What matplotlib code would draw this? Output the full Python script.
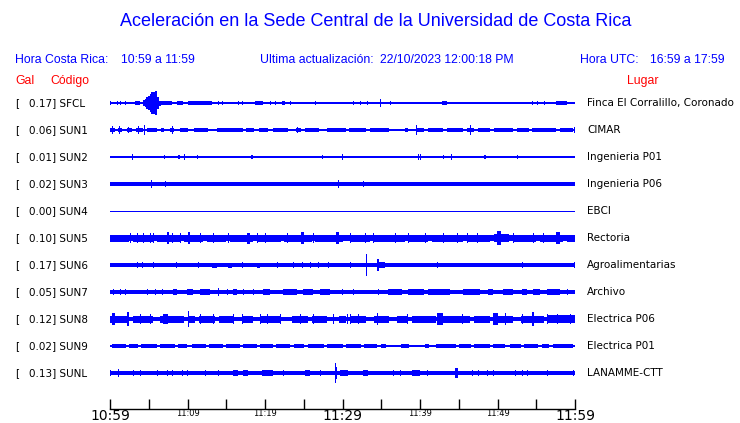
import matplotlib
matplotlib.use("Agg")
import matplotlib.pyplot as plt

W, H = 740, 423

codigos = ["SFCL", "SUN1", "SUN2", "SUN3", "SUN4", "SUN5", "SUN6", "SUN7", "SUN8", "SUN9", "SUNL"]
gal = [0.17, 0.06, 0.01, 0.02, 0.00, 0.10, 0.17, 0.05, 0.12, 0.02, 0.13]
lugares = ["Finca El Corralillo, Coronado", "CIMAR", "Ingenieria P01", "Ingenieria P06", "EBCI",
           "Rectoria", "Agroalimentarias", "Archivo", "Electrica P06", "Electrica P01", "LANAMME-CTT"]

# medio grosor del ruido de fondo de cada traza (px)
fondo = [1.0, 1.0, 0.8, 1.7, 0.5, 2.6, 1.6, 1.7, 2.4, 0.8, 1.8]

# rafagas: (minuto inicio, minuto fin, amplitud px)
sfcl = [(0.0, 0.1, 2), (0.9, 1.0, 2), (1.3, 1.4, 2), (1.9, 2.0, 2), (3.2, 3.9, 1.6),
        (4.2, 4.5, 3), (4.5, 4.7, 4), (4.7, 4.9, 6), (4.9, 5.1, 7), (5.1, 5.3, 9), (5.3, 5.5, 11),
        (5.5, 5.8, 11), (5.8, 6.1, 12), (6.1, 6.3, 6), (6.3, 6.6, 2.5),
        (6.6, 8.0, 1.6), (8.6, 9.4, 1.6), (10.1, 13.2, 1.6), (13.9, 14.0, 2), (14.5, 14.6, 2),
        (16.5, 16.6, 2), (17.0, 17.1, 2), (18.7, 19.7, 1.6), (20.6, 20.7, 2), (21.3, 21.4, 2),
        (22.2, 22.6, 1.6), (23.2, 23.3, 2), (26.5, 26.6, 2), (31.4, 31.5, 2), (32.3, 32.4, 2),
        (33.2, 33.3, 2), (34.8, 34.9, 4), (36.1, 36.2, 2), (42.8, 43.5, 1.6), (54.5, 54.6, 2),
        (55.1, 55.2, 2), (56.0, 56.1, 2), (57.6, 59.0, 1.6)]
sun1 = [(0.0, 0.6, 2), (0.3, 0.4, 4), (1.0, 1.6, 2), (1.2, 1.3, 4), (2.2, 2.8, 2), (2.4, 2.5, 3),
        (3.4, 4.2, 2), (3.6, 3.7, 4), (4.4, 4.5, 5),
        (4.8, 6.0, 1.6), (6.6, 7.0, 1.6), (7.8, 8.2, 2), (8.0, 8.1, 4), (9.0, 10.0, 1.6),
        (10.8, 12.6, 1.6), (13.8, 17.2, 1.6), (17.6, 18.6, 1.6), (19.2, 20.4, 1.6), (21.0, 23.0, 1.6),
        (24.0, 24.6, 2), (24.2, 24.3, 3),
        (25.2, 27.0, 1.6), (28.0, 30.5, 1.6), (30.8, 33.0, 1.6), (33.5, 36.0, 1.6), (38.0, 38.5, 1.6),
        (39.5, 40.5, 1.6), (39.5, 39.6, 5), (41.0, 43.0, 1.6), (43.5, 45.5, 1.6), (46.0, 47.0, 1.6),
        (46.5, 46.6, 5), (47.5, 49.0, 1.6), (49.5, 52.0, 1.6), (52.5, 54.0, 1.6), (54.5, 57.5, 1.6),
        (58.0, 59.8, 1.6), (59.9, 60.0, 3)]
sun2 = [(2.8, 2.9, 3), (7.0, 7.1, 2), (8.8, 9.0, 2), (9.5, 9.6, 3), (11.2, 11.3, 2),
        (18.2, 18.4, 2), (27.4, 27.5, 2), (29.9, 30.0, 3), (39.7, 39.8, 3), (40.0, 40.1, 3),
        (43.0, 43.1, 2), (44.0, 44.1, 3), (48.3, 48.5, 2), (52.5, 52.6, 2)]
sun3 = [(5.3, 5.4, 4), (7.1, 7.2, 3), (29.4, 29.6, 4), (32.6, 32.7, 3)]
sun4 = []
sun5 = [(0.0, 2.5, 3.5), (3.0, 5.5, 3.5), (6.0, 9.0, 3.5), (9.5, 12.0, 3.5), (12.5, 15.0, 3.5),
        (15.5, 18.5, 3.5), (19.0, 22.0, 3.5), (22.5, 26.0, 3.5), (26.5, 30.0, 3.5), (31.0, 33.5, 3.5),
        (34.0, 38.0, 3.5), (38.5, 41.0, 3.5), (41.5, 45.5, 3.5), (46.0, 49.0, 3.5), (49.5, 51.5, 4),
        (52.0, 55.0, 3.5), (55.5, 58.5, 3.5), (59.0, 60.0, 3.5),
        (2.6, 2.7, 5), (3.5, 3.6, 5), (4.3, 4.4, 5), (5.2, 5.3, 5), (5.5, 5.6, 5), (7.3, 7.6, 6),
        (8.0, 8.1, 5), (9.0, 9.1, 5), (10.0, 10.3, 6), (11.6, 11.7, 5), (13.3, 13.4, 5),
        (15.2, 15.3, 5), (17.7, 18.0, 5.5), (19.0, 19.1, 5), (20.0, 20.1, 5), (22.8, 22.9, 5),
        (24.7, 25.0, 6), (26.2, 26.3, 5), (29.2, 29.5, 6), (31.0, 31.1, 5), (32.9, 33.0, 5),
        (33.9, 34.0, 5), (36.8, 36.9, 5), (38.5, 38.6, 5), (40.6, 40.7, 5), (43.0, 43.1, 5),
        (44.8, 44.9, 5), (46.1, 46.2, 5), (47.4, 47.5, 5), (49.9, 50.4, 7), (52.0, 52.1, 5),
        (54.6, 54.7, 5), (55.9, 56.0, 5), (57.6, 58.0, 6)]
sun6 = [(3.5, 3.6, 3), (4.1, 4.2, 3), (5.5, 5.6, 3), (8.5, 8.6, 3), (9.3, 11.2, 2.3), (11.4, 11.5, 3),
        (13.2, 13.8, 2.5), (15.2, 15.7, 2.5), (17.0, 17.1, 3), (19.0, 19.4, 2.5), (21.5, 21.6, 3),
        (23.6, 23.7, 3), (24.8, 24.9, 3), (25.8, 25.9, 3), (26.8, 26.9, 3), (28.1, 28.2, 3),
        (31.0, 31.1, 3), (33.0, 33.15, 11), (34.5, 34.65, 6), (34.7, 35.5, 3), (35.2, 36.5, 2.3),
        (38.5, 39.6, 2.3), (42.2, 42.3, 3), (43.5, 44.8, 2.3), (46.1, 47.7, 2.3), (49.7, 52.0, 2.3),
        (53.2, 53.3, 3), (53.8, 55.5, 2.3), (59.9, 60.0, 3)]
sun7 = [(0.4, 0.5, 3), (1.3, 1.4, 3), (1.9, 2.0, 3), (4.8, 4.9, 3), (5.8, 5.9, 3), (6.7, 6.8, 3),
        (8.1, 8.6, 2.6), (9.9, 10.7, 2.6), (11.6, 12.9, 2.6), (13.9, 14.0, 4), (15.1, 15.2, 3),
        (15.9, 16.4, 2.6), (17.2, 17.3, 3), (18.5, 18.6, 3), (19.7, 20.6, 2.6), (22.3, 24.1, 2.6),
        (24.9, 26.2, 2.6), (27.1, 28.4, 2.6), (29.9, 30.0, 3), (31.4, 31.5, 3), (34.6, 34.7, 3),
        (35.9, 37.7, 2.6), (38.5, 40.5, 2.6), (41.0, 43.9, 2.6), (45.5, 47.7, 2.6), (48.8, 49.4, 2.6),
        (50.7, 52.0, 2.6), (53.2, 53.8, 2.6), (54.6, 55.5, 2.6), (56.4, 58.1, 2.6), (59.0, 59.1, 3)]
sun8 = [(0.0, 2.5, 3.5), (3.0, 5.5, 3.5), (6.5, 9.5, 3.5), (10.0, 11.0, 3.5), (11.5, 13.5, 3.5),
        (14.0, 16.0, 3.5), (17.0, 18.5, 3.5), (19.5, 22.0, 3.5), (23.5, 25.5, 3.5), (26.0, 28.0, 3.5),
        (29.5, 30.5, 3.5), (31.0, 33.0, 3.5), (34.0, 36.0, 3.5), (37.0, 38.5, 3.5), (39.0, 42.0, 3.5),
        (43.0, 46.5, 3.5), (47.0, 49.0, 3.5), (50.0, 52.0, 3.5), (53.0, 56.0, 3.5), (56.5, 60.0, 4),
        (0.3, 0.6, 6), (2.2, 2.4, 7), (3.9, 4.0, 5), (5.2, 5.3, 5), (6.8, 7.5, 5), (10.0, 10.2, 8),
        (11.6, 11.7, 5), (13.3, 13.4, 5), (15.9, 16.0, 5), (17.0, 17.1, 5), (19.4, 19.5, 5),
        (20.3, 20.4, 5), (21.9, 22.0, 5), (24.5, 24.6, 5), (26.2, 26.3, 5), (28.8, 28.9, 5),
        (30.6, 30.7, 5), (31.0, 31.1, 5), (32.0, 32.1, 5), (34.4, 34.6, 6), (38.3, 38.4, 5),
        (42.2, 43.0, 6), (45.4, 45.5, 5), (49.4, 50.0, 6), (51.0, 51.1, 6), (53.2, 53.3, 5),
        (54.5, 54.7, 7), (56.4, 56.5, 5), (57.7, 57.8, 5), (59.4, 59.5, 5)]
sun9 = [(0.2, 2.0, 1.7), (2.4, 3.6, 1.7), (4.0, 6.0, 1.7), (6.4, 8.4, 1.7), (8.8, 10.0, 1.7),
        (10.6, 12.4, 1.7), (12.8, 14.6, 1.7), (15.0, 16.8, 1.7), (17.2, 19.0, 1.7), (19.4, 21.0, 1.7),
        (21.4, 23.2, 1.7), (23.8, 25.0, 1.7), (25.6, 27.6, 1.7), (28.0, 30.0, 1.7), (30.4, 32.4, 1.7),
        (32.8, 34.4, 1.7), (35.0, 35.6, 1.7), (37.6, 38.6, 1.7), (40.6, 41.2, 1.7), (42.0, 44.6, 1.7),
        (45.0, 46.6, 1.7), (47.0, 49.0, 1.7), (49.4, 51.0, 1.7), (51.6, 53.0, 1.7), (53.4, 55.2, 1.7),
        (55.8, 56.6, 1.7), (57.2, 59.8, 1.7)]
sunl = [(0.0, 0.1, 3), (1.0, 1.1, 4), (3.0, 3.1, 3), (3.9, 4.0, 3), (6.1, 6.2, 3), (7.4, 7.5, 3),
        (8.0, 8.1, 3), (9.3, 9.4, 3), (9.9, 10.0, 3), (12.3, 12.4, 3), (13.9, 14.0, 3),
        (15.9, 16.5, 2.6), (17.2, 17.8, 3), (19.6, 21.0, 2.6), (22.3, 22.4, 3), (25.2, 25.8, 2.6),
        (27.1, 27.2, 3), (29.0, 29.15, 10), (29.2, 29.3, 6), (29.7, 30.7, 2.6), (32.6, 33.3, 2.6),
        (36.5, 36.6, 3), (37.4, 37.5, 3), (39.0, 40.0, 2.6), (40.9, 41.0, 3), (44.5, 44.9, 5),
        (46.7, 46.8, 3), (47.5, 47.6, 3), (48.6, 48.7, 3), (49.4, 49.5, 3), (52.3, 52.4, 3),
        (53.2, 53.3, 3), (53.8, 53.9, 3), (56.4, 56.5, 3), (59.7, 59.8, 3)]
rafagas = [sfcl, sun1, sun2, sun3, sun4, sun5, sun6, sun7, sun8, sun9, sunl]

ticks_min = list(range(0, 61, 5))
etiquetas = {0: "10:59", 10: "11:09", 20: "11:19", 30: "11:29", 40: "11:39", 50: "11:49", 60: "11:59"}
grandes = [0, 30, 60]

azul = "#0000ff"
rojo = "#ff0000"


def fx(px):
    return px / W


def fy(py):
    return 1 - py / H


fig = plt.figure(figsize=(W / 100, H / 100), dpi=100)
fig.patch.set_facecolor("white")

y0, dy = 103, 27
ax = fig.add_axes([fx(110), fy(409), fx(575) - fx(110), fy(88) - fy(409)])
ax.set_xlim(0, 60)
ax.set_ylim(409, 88)
for s in ["top", "left", "right"]:
    ax.spines[s].set_visible(False)
ax.spines["bottom"].set_linewidth(1)
ax.set_yticks([])
ax.set_xticks(ticks_min)
ax.set_xticklabels([etiquetas.get(t, "") for t in ticks_min], family="DejaVu Sans")
ax.tick_params(axis="x", direction="in", length=7.2, width=1, pad=0)
for t, lab in zip(ticks_min, ax.get_xticklabels()):
    lab.set_fontsize(10 if t in grandes else 6)

for i in range(len(codigos)):
    yc = y0 + i * dy
    b = fondo[i]
    ax.bar(30, 2 * b, width=60, bottom=yc - b, color=azul, linewidth=0)
    for t0, t1, a in rafagas[i]:
        ax.bar((t0 + t1) / 2, 2 * a, width=max(t1 - t0, 0.13), bottom=yc - a,
               color=azul, linewidth=0)

    fig.text(fx(15), fy(yc), "[", fontsize=7.5, va="center", family="DejaVu Sans")
    fig.text(fx(29), fy(yc), f"{gal[i]:.2f}] {codigos[i]}", fontsize=7.5, va="center",
             family="DejaVu Sans")
    fig.text(fx(587), fy(yc), lugares[i], fontsize=7.5, va="center", family="DejaVu Sans")

fig.text(fx(376), fy(22), "Aceleración en la Sede Central de la Universidad de Costa Rica",
         ha="center", va="center", color=azul, fontsize=13, family="Liberation Sans")

hdr = dict(va="center", color=azul, fontsize=8.8, family="Liberation Sans")
fig.text(fx(15), fy(60), "Hora Costa Rica:", **hdr)
fig.text(fx(121), fy(60), "10:59 a 11:59", **hdr)
fig.text(fx(260), fy(60), "Ultima actualización:", **hdr)
fig.text(fx(380), fy(60), "22/10/2023 12:00:18 PM", **hdr)
fig.text(fx(580), fy(60), "Hora UTC:", **hdr)
fig.text(fx(650), fy(60), "16:59 a 17:59", **hdr)

roj = dict(va="center", color=rojo, fontsize=8.8, family="Liberation Sans")
fig.text(fx(15), fy(81), "Gal", **roj)
fig.text(fx(50), fy(81), "Código", **roj)
fig.text(fx(627), fy(81), "Lugar", **roj)

fig.savefig("out.png", dpi=100, facecolor="white")
